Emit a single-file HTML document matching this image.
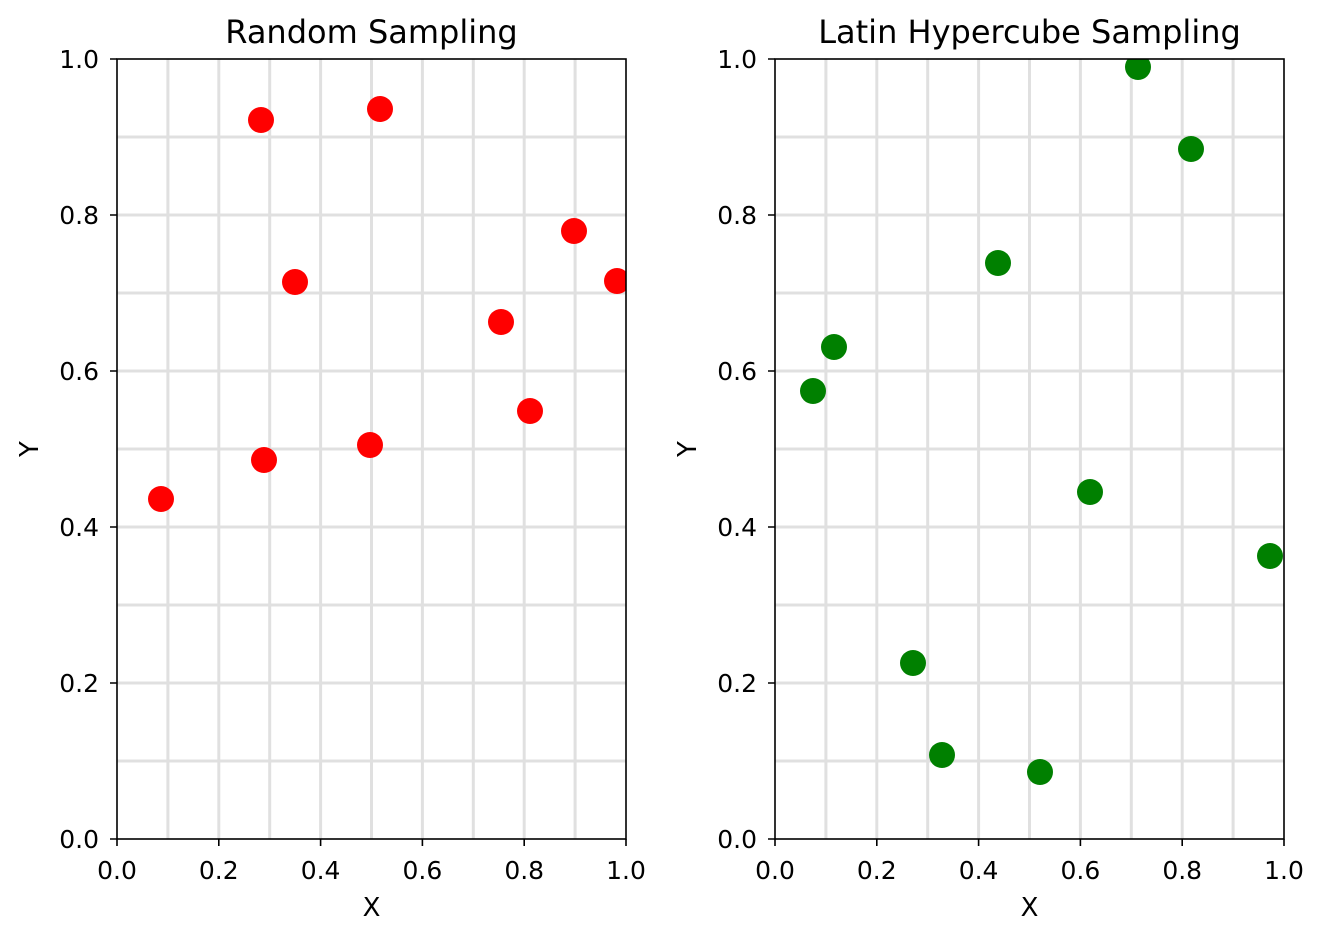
<!DOCTYPE html>
<html><head><meta charset="utf-8"><style>body{margin:0;background:#fff}svg{display:block}</style></head>
<body>
<svg width="1324" height="940" xmlns="http://www.w3.org/2000/svg" font-family="'DejaVu Sans','Liberation Sans',sans-serif">
<defs>
<clipPath id="c1"><rect x="117" y="59" width="509" height="780"/></clipPath>
<clipPath id="c2"><rect x="775" y="59" width="509" height="780"/></clipPath>
</defs>
<rect width="1324" height="940" fill="#fff"/>
<g stroke="#e0e0e0" stroke-width="3">
<line x1="167.9" y1="59" x2="167.9" y2="839"/><line x1="218.8" y1="59" x2="218.8" y2="839"/><line x1="269.7" y1="59" x2="269.7" y2="839"/><line x1="320.6" y1="59" x2="320.6" y2="839"/><line x1="371.5" y1="59" x2="371.5" y2="839"/><line x1="422.4" y1="59" x2="422.4" y2="839"/><line x1="473.3" y1="59" x2="473.3" y2="839"/><line x1="524.2" y1="59" x2="524.2" y2="839"/><line x1="575.1" y1="59" x2="575.1" y2="839"/>
<line x1="117" y1="761" x2="626" y2="761"/><line x1="117" y1="683" x2="626" y2="683"/><line x1="117" y1="605" x2="626" y2="605"/><line x1="117" y1="527" x2="626" y2="527"/><line x1="117" y1="449" x2="626" y2="449"/><line x1="117" y1="371" x2="626" y2="371"/><line x1="117" y1="293" x2="626" y2="293"/><line x1="117" y1="215" x2="626" y2="215"/><line x1="117" y1="137" x2="626" y2="137"/>
<line x1="825.9" y1="59" x2="825.9" y2="839"/><line x1="876.8" y1="59" x2="876.8" y2="839"/><line x1="927.7" y1="59" x2="927.7" y2="839"/><line x1="978.6" y1="59" x2="978.6" y2="839"/><line x1="1029.5" y1="59" x2="1029.5" y2="839"/><line x1="1080.4" y1="59" x2="1080.4" y2="839"/><line x1="1131.3" y1="59" x2="1131.3" y2="839"/><line x1="1182.2" y1="59" x2="1182.2" y2="839"/><line x1="1233.1" y1="59" x2="1233.1" y2="839"/>
<line x1="775" y1="761" x2="1284" y2="761"/><line x1="775" y1="683" x2="1284" y2="683"/><line x1="775" y1="605" x2="1284" y2="605"/><line x1="775" y1="527" x2="1284" y2="527"/><line x1="775" y1="449" x2="1284" y2="449"/><line x1="775" y1="371" x2="1284" y2="371"/><line x1="775" y1="293" x2="1284" y2="293"/><line x1="775" y1="215" x2="1284" y2="215"/><line x1="775" y1="137" x2="1284" y2="137"/>
</g>
<g fill="#ff0000" clip-path="url(#c1)">
<circle cx="161" cy="499" r="13"/><circle cx="261" cy="120" r="13"/><circle cx="380" cy="109" r="13"/><circle cx="295" cy="282" r="13"/><circle cx="574" cy="231" r="13"/><circle cx="617" cy="281" r="13"/><circle cx="501" cy="322" r="13"/><circle cx="530" cy="411" r="13"/><circle cx="370" cy="445" r="13"/><circle cx="264" cy="460" r="13"/>
</g>
<g fill="#008000" clip-path="url(#c2)">
<circle cx="813" cy="391" r="13"/><circle cx="834" cy="347" r="13"/><circle cx="998" cy="263" r="13"/><circle cx="1138" cy="67" r="13"/><circle cx="1191" cy="149" r="13"/><circle cx="1090" cy="492" r="13"/><circle cx="1270" cy="556" r="13"/><circle cx="913" cy="663" r="13"/><circle cx="942" cy="755" r="13"/><circle cx="1040" cy="772" r="13"/>
</g>
<g fill="none" stroke="#000" stroke-width="1.6">
<rect x="117" y="59" width="509" height="780"/>
<rect x="775" y="59" width="509" height="780"/>
<path d="M117 839v7M218.8 839v7M320.6 839v7M422.4 839v7M524.2 839v7M626 839v7M117 839h-7M117 683h-7M117 527h-7M117 371h-7M117 215h-7M117 59h-7"/>
<path d="M775 839v7M876.8 839v7M978.6 839v7M1080.4 839v7M1182.2 839v7M1284 839v7M775 839h-7M775 683h-7M775 527h-7M775 371h-7M775 215h-7M775 59h-7"/>
</g>
<g font-size="25" fill="#000" text-anchor="middle">
<text x="117" y="879">0.0</text><text x="218.8" y="879">0.2</text><text x="320.6" y="879">0.4</text><text x="422.4" y="879">0.6</text><text x="524.2" y="879">0.8</text><text x="626" y="879">1.0</text>
<text x="775" y="879">0.0</text><text x="876.8" y="879">0.2</text><text x="978.6" y="879">0.4</text><text x="1080.4" y="879">0.6</text><text x="1182.2" y="879">0.8</text><text x="1284" y="879">1.0</text>
</g>
<g font-size="25" fill="#000" text-anchor="end">
<text x="99" y="848">0.0</text><text x="99" y="692">0.2</text><text x="99" y="536">0.4</text><text x="99" y="380">0.6</text><text x="99" y="224">0.8</text><text x="99" y="68">1.0</text>
<text x="757" y="848">0.0</text><text x="757" y="692">0.2</text><text x="757" y="536">0.4</text><text x="757" y="380">0.6</text><text x="757" y="224">0.8</text><text x="757" y="68">1.0</text>
</g>
<g font-size="26" fill="#000" text-anchor="middle">
<text x="371.5" y="916">X</text><text x="1029.5" y="916">X</text>
<text transform="translate(38 449) rotate(-90)">Y</text>
<text transform="translate(696 449) rotate(-90)">Y</text>
</g>
<g font-size="32" fill="#000" text-anchor="middle">
<text x="371.5" y="43">Random Sampling</text>
<text x="1029.5" y="43">Latin Hypercube Sampling</text>
</g>
</svg>
</body></html>
